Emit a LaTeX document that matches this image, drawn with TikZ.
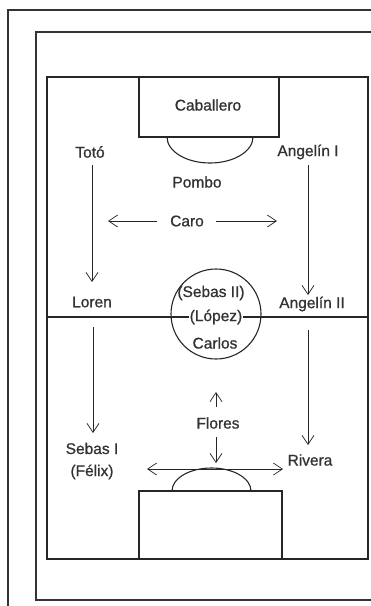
\documentclass[tikz,border=0pt]{standalone}
\usepackage{fontspec}
\setmainfont{Liberation Sans}
\newfontfamily\teamfont[FakeBold=0.9]{Liberation Sans}
\usetikzlibrary{arrows.meta}
\tikzset{
  frame/.style={line width=1.3pt, draw=black!80},
  pitch/.style={line width=1.1pt, draw=black!85},
  player/.style={inner sep=1pt, font=\teamfont\fontsize{15.5}{22}\selectfont, text=black!80},
  run/.style={line width=0.7pt, draw=black!85, -{Straight Barb[length=9pt,width=12pt]}}
}
\begin{document}
\begin{tikzpicture}[x=1pt,y=-1pt]
      \useasboundingbox (0,0) rectangle (371,606);
      % frames
      \draw[frame] (8,606) -- (8,10) -- (371,10);
      \draw[frame] (371,600) -- (36,600) -- (36,32) -- (371,32);
      % pitch
      \draw[pitch] (47,77) rectangle (368,559);
      \draw[pitch] (47,317) -- (368,317);
      \draw[pitch] (216,314) circle[radius=45];
      \draw[pitch] (139,77) rectangle (279,137);
      \draw[pitch] (167,137) arc[start angle=180, end angle=0, x radius=43, y radius=26];
      \draw[pitch] (139,559) -- (139,491) -- (282,491) -- (282,559);
      \draw[pitch] (172,491) arc[start angle=180, end angle=360, x radius=39.5, y radius=23];
      % players
      \draw
        (208,105) node[player] (caballero){Caballero}
        (90,152) node[player] (toto){Totó}
        (308,152) node[player] (angI){Angelín I}
        (197,182) node[player] (pombo){Pombo}
        (187,221) node[player] (caro){Caro}
        (92,302) node[player] (loren){Loren}
        (211,293) node[player] (sebasII){(Sebas II)}
        (216,317) node[player, fill=white] (lopez){(López)}
        (215,343) node[player] (carlos){Carlos}
        (312,304) node[player] (angII){Angelín II}
        (218,423) node[player] (flores){Flores}
        (92,461) node[player, align=center] (sebasI){Sebas I\\(Félix)}
        (310,460) node[player] (rivera){Rivera};
      \coordinate (caroL) at (108,221);
      \coordinate (caroR) at (277,221);
      \coordinate (floresU) at (216,392);
      \coordinate (floresD) at (216,463);
      \coordinate (wingL) at (147,469);
      \coordinate (wingR) at (283,469);
      % movements
      \begin{scope}[run]
        \draw (92,165) to (92,282);
        \draw (308,165) to (308,295);
        \draw (157,221) to (caroL);
        \draw (216,221) to (caroR);
        \draw (93,327) to (93,433);
        \draw (308,330) to (308,445);
        \draw (216,407) to (floresU);
        \draw (216,437) to (floresD);
        \draw[{Straight Barb[length=9pt,width=12pt]}-{Straight Barb[length=9pt,width=12pt]}] (wingL) to (wingR);
      \end{scope}
    \end{tikzpicture}
\end{document}
